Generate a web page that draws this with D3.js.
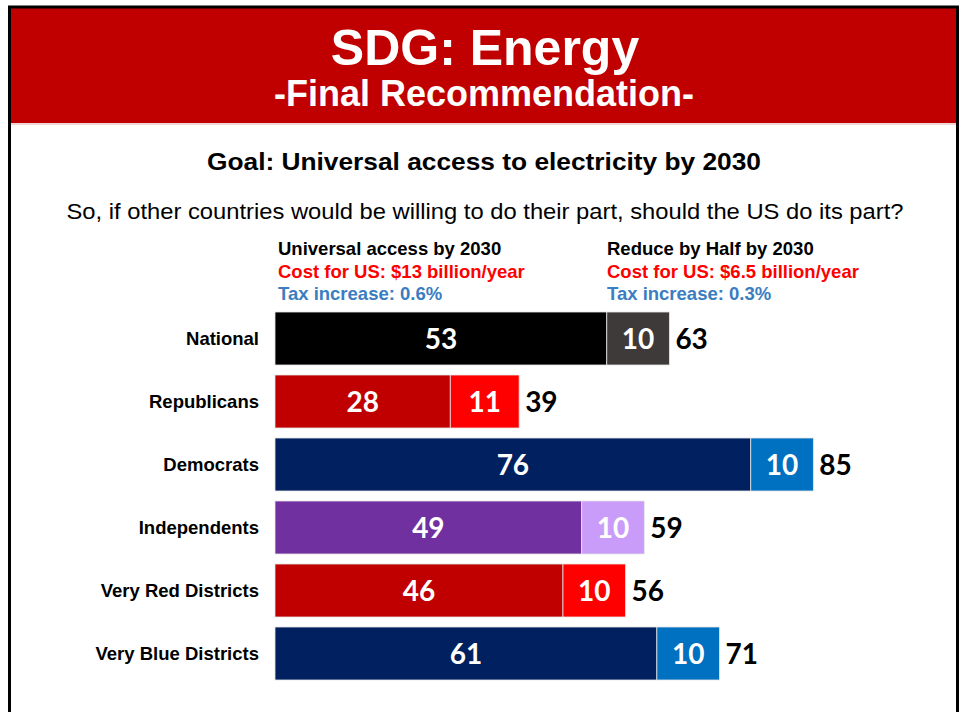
<!DOCTYPE html>
<html>
<head>
<meta charset="utf-8">
<script src="https://cdn.jsdelivr.net/npm/d3@7"></script>
<style>
  html, body { margin: 0; padding: 0; background: #fff; }
  svg { display: block; }
</style>
</head>
<body>
<svg id="chart" width="961" height="712"></svg>
<script>
// Survey results: share supporting each option, by group
const categories = ["National", "Republicans", "Democrats", "Independents", "Very Red Districts", "Very Blue Districts"];
const universalAccess = [53, 28, 76, 49, 46, 61];
const reduceByHalf = [10, 11, 10, 10, 10, 10];
const totals = [63, 39, 85, 59, 56, 71];

// Two shades per group: darker for the first option, lighter for the add-on
const darkColors = ["#000000", "#c00000", "#002060", "#7030a0", "#c00000", "#002060"];
const lightColors = ["#3d3a39", "#ff0000", "#0070c0", "#c99cf9", "#ff0000", "#0070c0"];

const legendLeft = ["Universal access by 2030", "Cost for US: $13 billion/year", "Tax increase: 0.6%"];
const legendRight = ["Reduce by Half by 2030", "Cost for US: $6.5 billion/year", "Tax increase: 0.3%"];

const svg = d3.select("#chart");
const SANS = "'Liberation Sans', Arial, sans-serif";
const NUM = "Lato, 'Open Sans', sans-serif";

// Page frame and title banner
svg.append("rect").attr("x", 11).attr("y", 8).attr("width", 945).attr("height", 115).attr("fill", "#c00000");
svg.append("line").attr("x1", 11).attr("x2", 956).attr("y1", 124).attr("y2", 124).attr("stroke", "#f0d6d6").attr("stroke-width", 2);
svg.append("rect").attr("x", 9.5).attr("y", 7).attr("width", 948).attr("height", 720)
  .attr("fill", "none").attr("stroke", "#000").attr("stroke-width", 3);

svg.append("text").attr("x", 485).attr("y", 65).attr("text-anchor", "middle")
  .attr("font-family", SANS).attr("font-weight", "bold").attr("font-size", 50).attr("fill", "#fff")
  .text("SDG: Energy");
svg.append("text").attr("x", 484).attr("y", 106).attr("text-anchor", "middle")
  .attr("font-family", SANS).attr("font-weight", "bold").attr("font-size", 36).attr("fill", "#fff")
  .text("-Final Recommendation-");

svg.append("text").attr("x", 484).attr("y", 170).attr("text-anchor", "middle")
  .attr("font-family", SANS).attr("font-weight", "bold").attr("font-size", 24).attr("fill", "#000")
  .attr("textLength", 554).attr("lengthAdjust", "spacingAndGlyphs")
  .text("Goal: Universal access to electricity by 2030");
svg.append("text").attr("x", 485).attr("y", 219).attr("text-anchor", "middle")
  .attr("font-family", SANS).attr("font-size", 22.5).attr("fill", "#000")
  .attr("textLength", 837).attr("lengthAdjust", "spacingAndGlyphs")
  .text("So, if other countries would be willing to do their part, should the US do its part?");

// Option descriptions above the bars
const legendColors = ["#000000", "#ff0000", "#3a7dc1"];
function legendBlock(lines, x) {
  svg.append("g").selectAll("text").data(lines).join("text")
    .attr("x", x).attr("y", (d, i) => 255 + i * 22.5)
    .attr("font-family", SANS).attr("font-weight", "bold").attr("font-size", 18.5)
    .attr("fill", (d, i) => legendColors[i])
    .text(d => d);
}
legendBlock(legendLeft, 278);
legendBlock(legendRight, 607);

// Scales
const x = d3.scaleLinear().domain([0, 100]).range([275, 901]);
const y = d3.scaleBand().domain(categories).range([307, 685])
  .paddingInner(10 / 63).paddingOuter(5 / 63);

const rows = categories.map((c, i) => ({
  cat: c, a: universalAccess[i], b: reduceByHalf[i], total: totals[i],
  dark: darkColors[i], light: lightColors[i]
}));

const g = svg.append("g");
const row = g.selectAll("g.row").data(rows).join("g").attr("class", "row");

row.append("rect")
  .attr("x", x(0)).attr("y", d => y(d.cat))
  .attr("width", d => x(d.a) - x(0)).attr("height", y.bandwidth())
  .attr("fill", d => d.dark).attr("stroke", "#e6e6e6").attr("stroke-width", 0.8);
row.append("rect")
  .attr("x", d => x(d.a)).attr("y", d => y(d.cat))
  .attr("width", d => x(d.a + d.b) - x(d.a)).attr("height", y.bandwidth())
  .attr("fill", d => d.light).attr("stroke", "#e6e6e6").attr("stroke-width", 0.8);

const mid = d => y(d.cat) + y.bandwidth() / 2;

row.append("text")
  .attr("x", d => (x(0) + x(d.a)) / 2).attr("y", d => mid(d) + 10)
  .attr("text-anchor", "middle").attr("font-family", NUM).attr("font-weight", "bold")
  .attr("font-size", 28).attr("fill", "#fff").text(d => d.a);
row.append("text")
  .attr("x", d => (x(d.a) + x(d.a + d.b)) / 2).attr("y", d => mid(d) + 10)
  .attr("text-anchor", "middle").attr("font-family", NUM).attr("font-weight", "bold")
  .attr("font-size", 28).attr("fill", "#fff").text(d => d.b);
row.append("text")
  .attr("x", d => x(d.a + d.b) + 6).attr("y", d => mid(d) + 10)
  .attr("font-family", NUM).attr("font-weight", "bold")
  .attr("font-size", 28).attr("fill", "#000").text(d => d.total);

// Group names
row.append("text")
  .attr("x", 259).attr("y", d => mid(d) + 6)
  .attr("text-anchor", "end").attr("font-family", SANS).attr("font-weight", "bold")
  .attr("font-size", 18.5).attr("fill", "#000").text(d => d.cat);
</script>
</body>
</html>
